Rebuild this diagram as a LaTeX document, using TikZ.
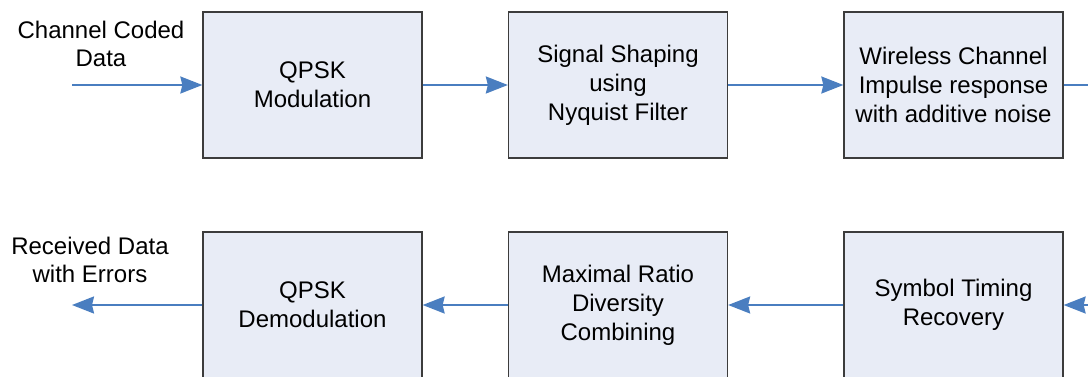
\documentclass[tikz,border=0pt]{standalone}
\usepackage{fontspec}
\setmainfont{Liberation Sans}
\usetikzlibrary{arrows.meta}
\definecolor{boxfill}{RGB}{232,236,246}
\definecolor{boxline}{RGB}{60,60,60}
\definecolor{arrowblue}{RGB}{74,126,192}
\begin{document}
\begin{tikzpicture}[x=1pt,y=1pt,
  blockbox/.style={draw=boxline, line width=1.3pt, fill=boxfill, minimum width=219pt, minimum height=146pt, inner sep=0pt, align=center, font=\fontsize{24}{29}\selectfont},
  lbl/.style={align=center, font=\fontsize{24}{28}\selectfont, inner sep=0pt},
  flow/.style={draw=arrowblue, line width=2pt, -{Stealth[length=22pt,width=17pt,inset=2pt]}},
  plainflow/.style={draw=arrowblue, line width=2pt}]
\useasboundingbox (0,0) rectangle (1088,-376);
\clip (0,0) rectangle (1088,-376);
\fill[white] (0,0) rectangle (1088,-376);
% top row
\node[blockbox] (mod) at (312.5,-85) {QPSK\\Modulation};
\node[blockbox] (shape) at (618,-85) {Signal Shaping\\using\\Nyquist Filter};
\node[blockbox] (chan) at (953.5,-85) {Wireless Channel\\Impulse response\\with additive noise};
% bottom row
\node[blockbox] (demod) at (312.5,-305) {QPSK\\Demodulation};
\node[blockbox] (mrc) at (618,-305) {Maximal Ratio\\Diversity\\Combining};
\node[blockbox] (sync) at (953.5,-305) {Symbol Timing\\Recovery};
% labels
\node[lbl] (inlbl) at (101,-44) {Channel Coded\\Data};
\node[lbl] (outlbl) at (90,-260) {Received Data\\with Errors};
% coordinates
\coordinate (inp) at (72,-85);
\coordinate (outp) at (72,-305);
\coordinate (topexit) at (1090,-85);
\coordinate (botentry) at (1100,-305);
% connectors
\draw[flow] (inp) -- (mod.west);
\draw[flow] (mod.east) -- (shape.west);
\draw[flow] (shape.east) -- (chan.west);
\draw[plainflow] (chan.east) -- (topexit);
\draw[flow] (botentry) -- (sync.east);
\draw[flow] (sync.west) -- (mrc.east);
\draw[flow] (mrc.west) -- (demod.east);
\draw[flow] (demod.west) -- (outp);
\end{tikzpicture}
\end{document}
